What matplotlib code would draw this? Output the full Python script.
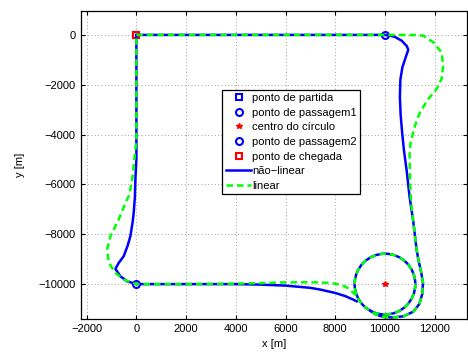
import matplotlib
matplotlib.use("Agg")
import matplotlib.pyplot as plt
from matplotlib.patches import Circle

plt.rcParams['font.family'] = ['Liberation Sans', 'DejaVu Sans']
plt.rcParams['font.size'] = 8

# pontos notaveis
partida = (0, 0)
passagem1 = (10000, 0)
centro = (10000, -10000)
passagem2 = (0, -10000)
chegada = (0, 0)
raio = 1220

# trajetoria nao-linear: ate entrar no circulo, e depois de sair
nl_in_x = [0, 10000, 10200, 10400, 10670, 10880, 10936, 10850, 10700, 10620, 10600, 10630,
           10690, 10760, 10880, 10990, 11140, 11270, 11340, 11450, 11530, 11500, 11380,
           11150, 10750, 10300, 9900, 9600, 9400]
nl_in_y = [0, 0, -30, -80, -230, -450, -600, -850, -1300, -1800, -2500, -3200,
           -3900, -4600, -5500, -6500, -7500, -8600, -9000, -9500, -9950, -10400, -10800,
           -11100, -11290, -11340, -11310, -11200, -11060]
nl_out_x = [8860, 8730, 8400, 8000, 7400, 7000, 6000, 5000, 4000, 2000, 0, -375, -643,
            -843, -710, -510, -350, -241, -150, -107, -60, -40, 0, 0]
nl_out_y = [-10690, -10624, -10480, -10355, -10220, -10150, -10060, -10020, -10000, -10000,
            -10000, -9886, -9685, -9390, -9147, -8880, -8450, -8075, -7500, -7135, -6500,
            -5800, -5000, 0]

# trajetoria linear
li_in_x = [0, 10000, 11137, 11540, 11940, 12277, 12342, 12277, 12076, 11740, 11405, 11205,
           11030, 10990, 11000, 11020, 11060, 11140, 11270, 11340, 11450, 11530, 11500,
           11380, 11150, 10750, 10300, 9900, 9600, 9400]
li_in_y = [0, 0, 0, -28, -295, -700, -1235, -1770, -2173, -2575, -3111, -3650,
           -4318, -4800, -5500, -6200, -6800, -7500, -8600, -9000, -9500, -9950, -10400,
           -10800, -11100, -11290, -11340, -11310, -11200, -11060]
li_out_x = [8850, 8700, 8594, 8400, 8193, 7791, 7000, 6000, 5000, 4000, 2000, 0, -510,
            -843, -1111, -1178, -1044, -710, -390, -286, -150, -80, 0, 0]
li_out_y = [-10450, -10330, -10221, -10100, -10020, -9950, -9926, -9930, -9960, -9980,
            -10000, -10000, -9819, -9550, -9147, -8612, -8075, -7400, -6627, -6426,
            -5660, -4990, -4185, 0]

xticks = [-2000, 0, 2000, 4000, 6000, 8000, 10000, 12000]
yticks = [0, -2000, -4000, -6000, -8000, -10000]

fig = plt.figure(figsize=(4.68, 3.53), dpi=100)
ax = fig.add_axes([80.7 / 468, (353 - 319) / 353, 386.3 / 468, 308 / 353])

ax.plot(*partida, 's', color='blue', ms=4, mew=1.5, mfc='none', label='ponto de partida')
ax.plot(*passagem1, 'o', color='blue', ms=5, mew=1.5, mfc='none', label='ponto de passagem1')
ax.plot(*centro, '*', color='red', ms=4, mew=1, label='centro do círculo')
ax.plot(*passagem2, 'o', color='blue', ms=5, mew=1.5, mfc='none', label='ponto de passagem2')
ax.plot(*chegada, 's', color='red', ms=5, mew=1.5, mfc='none', label='ponto de chegada')

lw = 1.8
dash = (0, (2.6, 1.6))
ax.plot(nl_in_x, nl_in_y, '-', color='blue', lw=lw, label='não\u2212linear')
ax.plot(nl_out_x, nl_out_y, '-', color='blue', lw=lw)
ax.add_patch(Circle(centro, raio, fill=False, ec='blue', lw=lw))
ax.plot(li_in_x, li_in_y, color='#00ff00', lw=lw, ls=dash, label='linear')
ax.plot(li_out_x, li_out_y, color='#00ff00', lw=lw, ls=dash)
ax.add_patch(Circle(centro, raio, fill=False, ec='#00ff00', lw=lw, ls=dash))

ax.set_xlim(-2240, 13300)
ax.set_ylim(-11400, 960)
ax.set_xticks(xticks)
ax.set_yticks(yticks)
ax.grid(True, ls=(0, (1, 3)), color='0.5', lw=0.6)
ax.tick_params(direction='in', top=True, right=True, length=3, labelsize=8)
for s in ax.spines.values():
    s.set_linewidth(0.9)
ax.set_xlabel('x [m]', fontsize=8, labelpad=4)
ax.set_ylabel('y [m]', fontsize=8, labelpad=10)

leg = ax.legend(loc='upper left', bbox_to_anchor=(0.367, 0.745), fontsize=8,
                fancybox=False, framealpha=1, edgecolor='black', handlelength=2.3,
                handletextpad=0.1, labelspacing=0.42, borderpad=0.3, borderaxespad=0)
leg.get_frame().set_linewidth(0.9)

fig.savefig('out.png', dpi=100)
